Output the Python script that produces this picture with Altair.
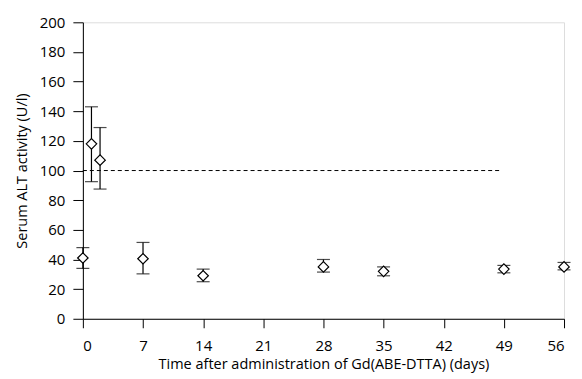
import altair as alt
import pandas as pd

days = [0, 1, 2, 7, 14, 28, 35, 49, 56]
alt_mean = [41, 118, 107, 40.5, 29, 35, 32, 33.5, 35]
err_low = [34, 92.5, 87.5, 30.3, 25, 31.5, 29, 31, 33]
err_high = [48, 143, 129, 51.5, 33.5, 40, 35, 36, 38]

ref_x = [0, 48.5]
ref_y = [100, 100]

x_ticks = [0, 7, 14, 21, 28, 35, 42, 49, 56]
y_ticks = [0, 20, 40, 60, 80, 100, 120, 140, 160, 180, 200]

df = pd.DataFrame({"day": days, "mean": alt_mean, "lo": err_low, "hi": err_high})
ref = pd.DataFrame({"x": ref_x, "y": ref_y})

FONT = "Open Sans"

xs = alt.Scale(domain=[0, 56], nice=False, zero=False)
ys = alt.Scale(domain=[0, 200], nice=False)

xax = alt.Axis(values=x_ticks, title="Time after administration of Gd(ABE-DTTA) (days)",
               grid=False, domainColor="black", tickColor="black", tickSize=9,
               labelFont=FONT, labelFontSize=15, labelColor="black", labelPadding=11,
               labelOverlap=False,
               titleFont=FONT, titleFontSize=14.5, titleFontWeight="normal", titleColor="black",
               titlePadding=4)
yax = alt.Axis(values=y_ticks, title="Serum ALT activity (U/l)",
               grid=False, domainColor="black", tickColor="black", tickSize=10,
               labelFont=FONT, labelFontSize=15, labelColor="black", labelPadding=8,
               labelOverlap=False,
               titleFont=FONT, titleFontSize=14.5, titleFontWeight="normal", titleColor="black",
               titlePadding=10)

base = alt.Chart(df)

line = alt.Chart(ref).mark_line(color="black", strokeWidth=1, strokeDash=[4, 3]).encode(
    x=alt.X("x:Q", scale=xs, axis=xax),
    y=alt.Y("y:Q", scale=ys, axis=yax),
)

bars = base.mark_rule(color="black", strokeWidth=1.2).encode(
    x=alt.X("day:Q", scale=xs, axis=xax),
    y=alt.Y("lo:Q", scale=ys, axis=yax),
    y2="hi:Q",
)
cap_lo = base.mark_tick(orient="horizontal", color="black", size=13, thickness=1.2).encode(
    x=alt.X("day:Q", scale=xs, axis=xax), y=alt.Y("lo:Q", scale=ys, axis=yax))
cap_hi = base.mark_tick(orient="horizontal", color="black", size=13, thickness=1.2).encode(
    x=alt.X("day:Q", scale=xs, axis=xax), y=alt.Y("hi:Q", scale=ys, axis=yax))

pts = base.mark_point(shape="diamond", filled=True, fill="white", stroke="black",
                      strokeWidth=1.2, size=110, opacity=1).encode(
    x=alt.X("day:Q", scale=xs, axis=xax), y=alt.Y("mean:Q", scale=ys, axis=yax))

chart = (line + bars + cap_lo + cap_hi + pts).properties(
    width=482, height=297,
    autosize=alt.AutoSizeParams(type="none"),
    padding={"left": 75, "top": 14, "right": 10, "bottom": 58},
).configure_view(stroke=None).configure_axis(labelOverlap=False).configure(background="white")

chart.save("out.html", embed_options={"renderer": "svg", "actions": False})
